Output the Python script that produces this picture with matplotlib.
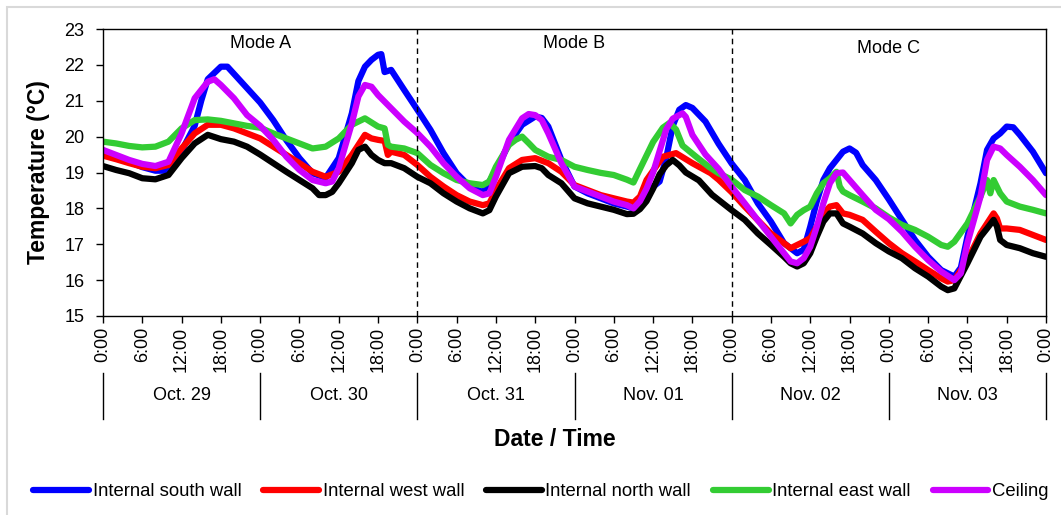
import matplotlib
matplotlib.use('Agg')
import matplotlib.pyplot as plt
import matplotlib.transforms as mtransforms
from matplotlib.patches import Rectangle

plt.rcParams['font.family'] = ['Liberation Sans', 'DejaVu Sans']

# (hour since Oct. 29 0:00, temperature in degC)
south = [(0, 19.6), (2, 19.45), (4, 19.3), (6, 19.15), (8, 19.05), (10, 19.05), (12, 19.6), (14, 20.3),
         (15, 21.0), (16, 21.6), (18, 21.95), (19, 21.95), (20, 21.75), (22, 21.35), (24, 20.95), (26, 20.46),
         (28, 19.9), (30, 19.4), (32, 18.98), (34, 18.85), (36, 19.4), (38, 20.65), (39, 21.55), (40, 21.95),
         (41, 22.14), (42, 22.28), (42.5, 22.3), (43, 21.8), (44, 21.86), (46, 21.3), (48, 20.75), (50, 20.19),
         (52, 19.54), (54, 18.98), (56, 18.61), (58, 18.45), (60, 19.05), (62, 19.81), (64, 20.33), (66, 20.56),
         (67, 20.52), (68, 20.28), (70, 19.35), (72, 18.61), (74, 18.42), (76, 18.28), (78, 18.14), (80, 18.05),
         (81, 18.0), (82, 18.14), (84, 18.6), (85, 18.75), (86, 19.4), (87, 20.3), (88, 20.75), (89, 20.88),
         (90, 20.8), (92, 20.42), (94, 19.8), (96, 19.25), (98, 18.79), (100, 18.14), (102, 17.63), (104, 17.03),
         (106, 16.75), (107, 16.85), (108, 17.49), (109, 18.2), (110, 18.79), (111, 19.12), (112, 19.35),
         (113, 19.58), (114, 19.67), (115, 19.55), (116, 19.21), (118, 18.79), (120, 18.25), (122, 17.68),
         (124, 17.12), (126, 16.65), (128, 16.28), (130, 16.1), (131, 16.35), (132, 17.21), (134, 18.7),
         (135, 19.63), (136, 19.95), (137, 20.09), (138, 20.28), (139, 20.26), (140, 20.05), (142, 19.58),
         (144, 18.98)]

west = [(0, 19.47), (2, 19.37), (4, 19.26), (6, 19.16), (8, 19.12), (10, 19.21), (12, 19.67), (14, 20.09),
        (16, 20.33), (18, 20.33), (20, 20.23), (22, 20.09), (24, 19.95), (26, 19.72), (28, 19.49), (30, 19.26),
        (32, 19.02), (34, 18.88), (36, 19.02), (38, 19.49), (40, 20.05), (41, 19.95), (42, 19.91), (43, 19.88),
        (43.5, 19.49), (44, 19.58), (46, 19.49), (48, 19.21), (50, 18.88), (52, 18.61), (54, 18.37),
        (56, 18.19), (58, 18.09), (59, 18.14), (60, 18.51), (62, 19.12), (64, 19.35), (66, 19.4), (68, 19.26),
        (70, 19.02), (72, 18.65), (74, 18.51), (76, 18.37), (78, 18.28), (80, 18.19), (81, 18.16), (82, 18.33),
        (83, 18.79), (85.5, 19.44), (87.5, 19.54), (90, 19.26), (92.8, 18.98), (94, 18.8), (96, 18.45),
        (98, 18.05), (100, 17.67), (102, 17.3), (104, 17.03), (105, 16.89), (106, 16.98), (107, 17.07),
        (108, 17.17), (109, 17.49), (110, 17.86), (111, 18.05), (112, 18.09), (113, 17.86), (114, 17.82),
        (116, 17.68), (118, 17.35), (120, 17.03), (122, 16.75), (124, 16.52), (126, 16.28), (128, 16.05),
        (129, 15.96), (130, 16.0), (132, 16.56), (134, 17.3), (135, 17.58), (136, 17.86), (136.5, 17.72),
        (137, 17.44), (138, 17.44), (140, 17.4), (142, 17.26), (144, 17.12)]

north = [(0, 19.18), (2, 19.07), (4, 18.98), (6, 18.84), (8, 18.81), (10, 18.93), (12, 19.4), (14, 19.81),
         (16, 20.05), (18, 19.93), (20, 19.86), (22, 19.72), (24, 19.5), (26, 19.26), (28, 19.02), (30, 18.79),
         (32, 18.56), (33, 18.37), (34, 18.37), (35, 18.46), (36, 18.7), (38, 19.26), (39, 19.63), (40, 19.72),
         (41, 19.49), (42, 19.35), (43, 19.26), (44, 19.26), (46, 19.12), (48, 18.88), (50, 18.7), (52, 18.42),
         (54, 18.19), (56, 18.0), (58, 17.86), (59, 17.95), (60, 18.33), (62, 18.98), (64, 19.16), (66, 19.18),
         (67, 19.12), (68, 18.93), (70, 18.7), (72, 18.28), (74, 18.14), (76, 18.05), (78, 17.96), (80, 17.84),
         (81, 17.85), (82, 17.98), (83, 18.2), (84, 18.55), (85, 18.95), (86, 19.2), (87, 19.35), (88, 19.2),
         (89, 19.0), (91, 18.78), (93, 18.38), (96, 17.95), (98, 17.68), (100, 17.3), (102, 16.98), (104, 16.65),
         (105, 16.47), (106, 16.38), (107, 16.47), (108, 16.75), (109, 17.21), (110, 17.63), (111, 17.86),
         (112, 17.86), (113, 17.58), (114, 17.49), (116, 17.3), (118, 17.03), (120, 16.8), (122, 16.61),
         (124, 16.33), (126, 16.1), (128, 15.82), (129, 15.72), (130, 15.77), (132, 16.47), (134, 17.21),
         (135, 17.44), (136, 17.68), (136.5, 17.5), (137, 17.12), (138, 16.98), (140, 16.89), (142, 16.75),
         (144, 16.65)]

east = [(0, 19.86), (2, 19.81), (4, 19.74), (6, 19.7), (8, 19.72), (10, 19.86), (12, 20.23), (14, 20.46),
        (16, 20.48), (18, 20.44), (20, 20.37), (22, 20.3), (24, 20.25), (26, 20.09), (28, 19.95), (30, 19.81),
        (32, 19.67), (34, 19.72), (36, 19.95), (38, 20.33), (40, 20.51), (42, 20.28), (43, 20.23), (43.5, 19.77),
        (44, 19.72), (46, 19.67), (48, 19.54), (50, 19.21), (52, 18.98), (54, 18.79), (56, 18.7), (58, 18.65),
        (59, 18.75), (60, 19.16), (62, 19.77), (63, 19.91), (64, 20.0), (65, 19.82), (66, 19.63), (68, 19.44),
        (70, 19.35), (72, 19.16), (74, 19.07), (76, 18.99), (78, 18.93), (80, 18.8), (81, 18.72), (82, 19.1),
        (84, 19.85), (85.5, 20.25), (86.5, 20.38), (87.5, 20.2), (88.5, 19.75), (90.5, 19.45), (92.5, 19.16),
        (94, 18.98), (96, 18.8), (98, 18.51), (100, 18.33), (102, 18.09), (104, 17.86), (105, 17.58),
        (106, 17.82), (107, 17.95), (108, 18.05), (109, 18.42), (110, 18.7), (111, 18.84), (112, 19.02),
        (112.5, 18.61), (113, 18.47), (114, 18.37), (116, 18.19), (118, 18.0), (120, 17.75), (122, 17.54),
        (124, 17.4), (126, 17.21), (128, 16.98), (129, 16.93), (130, 17.07), (132, 17.58), (134, 18.33),
        (135, 18.79), (135.5, 18.42), (136, 18.79), (137, 18.42), (138, 18.19), (140, 18.05), (142, 17.96),
        (144, 17.86)]

ceiling = [(0, 19.63), (2, 19.49), (4, 19.35), (6, 19.24), (8, 19.18), (10, 19.3), (12, 20.09), (14, 21.07),
           (16, 21.53), (17, 21.6), (18, 21.44), (20, 21.07), (22, 20.6), (24, 20.3), (26, 19.91), (28, 19.44),
           (30, 19.07), (32, 18.79), (34, 18.7), (35, 18.75), (36, 19.12), (38, 20.37), (39, 21.12), (40, 21.44),
           (41, 21.39), (42, 21.16), (44, 20.79), (46, 20.42), (48, 20.1), (50, 19.72), (52, 19.26), (54, 18.88),
           (56, 18.56), (58, 18.37), (59, 18.42), (60, 18.88), (62, 19.91), (64, 20.51), (65, 20.63), (66, 20.6),
           (67, 20.46), (68, 20.09), (70, 19.26), (72, 18.61), (74, 18.47), (76, 18.33), (78, 18.19), (80, 18.09),
           (81, 18.0), (82, 18.2), (83, 18.55), (84, 19.0), (85, 19.6), (86, 20.2), (87, 20.5), (88.5, 20.65),
           (89, 20.55), (90, 20.05), (92, 19.5), (94, 19.1), (96, 18.6), (98, 18.14), (100, 17.67), (102, 17.21),
           (104, 16.75), (105, 16.52), (106, 16.47), (107, 16.61), (108, 16.93), (109, 17.49), (110, 18.14),
           (111, 18.7), (112, 18.98), (113, 19.0), (114, 18.79), (116, 18.37), (118, 17.96), (120, 17.7),
           (122, 17.35), (124, 16.93), (126, 16.56), (128, 16.24), (130, 16.0), (131, 16.19), (132, 17.03),
           (134, 18.33), (135, 19.35), (136, 19.72), (137, 19.67), (138, 19.49), (140, 19.16), (142, 18.79),
           (144, 18.37)]

series_names = ['Internal south wall', 'Internal west wall', 'Internal north wall',
                'Internal east wall', 'Ceiling']
series_colors = ['#0000ff', '#ff0000', '#000000', '#33cc33', '#cc00ff']
day_labels = ['Oct. 29', 'Oct. 30', 'Oct. 31', 'Nov. 01', 'Nov. 02', 'Nov. 03']
hour_labels = ['0:00', '6:00', '12:00', '18:00']
mode_labels = ['Mode A', 'Mode B', 'Mode C']

W, H = 1061, 515
fig = plt.figure(figsize=(W / 100, H / 100), dpi=100)
ax = fig.add_axes([103 / W, 1 - 316 / H, 943 / W, 287 / H])

for data, name, col in zip([south, west, north, east, ceiling], series_names, series_colors):
    hrs = [p[0] for p in data]
    temps = [p[1] for p in data]
    ax.plot(hrs, temps, color=col, lw=4.5, label=name, solid_joinstyle='round', solid_capstyle='round')

ax.set_xlim(0, 144)
ax.set_ylim(15, 23)
ax.set_yticks(range(15, 24))
ax.set_xticks(range(0, 145, 6))
ax.set_xticklabels(hour_labels * 6 + ['0:00'], rotation=90)
ax.tick_params(axis='both', direction='out', length=5, width=1, labelsize=13)
ax.tick_params(axis='x', pad=3)
ax.tick_params(axis='y', pad=8.5)
for sp in ax.spines.values():
    sp.set_linewidth(1)

# mode separators and labels
for xv in (48, 96):
    ax.axvline(xv, color='black', lw=1, ls=(0, (4, 3)))
ax.text(24, 22.6, mode_labels[0], ha='center', va='center', fontsize=13)
ax.text(72, 22.6, mode_labels[1], ha='center', va='center', fontsize=13)
ax.text(120, 22.47, mode_labels[2], ha='center', va='center', fontsize=13)

# day grouping below the hour labels
trans = mtransforms.blended_transform_factory(ax.transData, fig.transFigure)
for i in range(7):
    ax.plot([24 * i, 24 * i], [1 - 373 / H, 1 - 419 / H], color='black', lw=1,
            transform=trans, clip_on=False)
for i, lab in enumerate(day_labels):
    ax.text(24 * i + 12, 1 - 395 / H, lab, ha='center', va='center', fontsize=13, transform=trans)

fig.text(555 / W, 1 - 440 / H, 'Date / Time', ha='center', va='center', fontsize=16.5, fontweight='bold')
fig.text(39 / W, 1 - 172 / H, 'Temperature (°C)', ha='center', va='center', rotation=90,
         fontsize=16.5, fontweight='bold')

fig.legend(loc='center', bbox_to_anchor=(541 / W, 1 - 492 / H), ncol=5, frameon=False, fontsize=13.3,
           handlelength=3, handletextpad=0.2, columnspacing=1.2, borderpad=0)

fig.add_artist(Rectangle((7 / W, -0.1), 1.2, 1.1 - 7 / H, transform=fig.transFigure,
                         fill=False, edgecolor='#d9d9d9', lw=1.5))

fig.savefig('out.png', dpi=100)
